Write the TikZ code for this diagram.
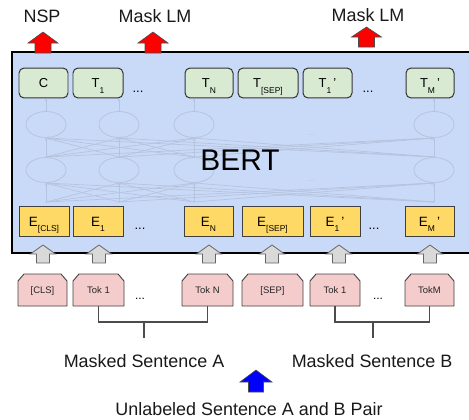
\documentclass[tikz,border=0pt]{standalone}
\usepackage{fontspec}
\setmainfont{Liberation Sans}
\usetikzlibrary{arrows.meta}
\definecolor{bertbg}{HTML}{C9DAF8}
\definecolor{tgreen}{HTML}{D9EAD3}
\definecolor{eyellow}{HTML}{FFD966}
\definecolor{tpink}{HTML}{F4CCCC}
\definecolor{netc}{HTML}{B6C3DE}
\definecolor{arrgray}{HTML}{D9D9D9}
\newcommand\sub[1]{\raisebox{-5.5pt}{\fontsize{8.5}{9}\selectfont #1}}
\newcommand\blockup[7]{\draw[#7] (#1-#5,#3) -- (#1-#5,#2+#6) -- (#1-#4,#2+#6) -- (#1,#2) -- (#1+#4,#2+#6) -- (#1+#5,#2+#6) -- (#1+#5,#3) -- cycle;}
\newcommand\tokbox[4]{\fill[tpink,draw=black!75,line width=0.9pt,line join=round] (#2,306) -- (#2,281) -- (#2+6,274) -- (#3-6,274) -- (#3,281) -- (#3,306) -- cycle;
  \node[toktext,minimum width=#3-#2] (#1) at ({(#2+#3)/2},290) {#4};}
\tikzset{
  tbox/.style={draw=black!80,fill=tgreen,line width=1pt,rounded corners=5pt,minimum height=30pt,inner sep=0pt,
    font=\fontsize{13}{15}\selectfont,text height=9.5pt,text depth=0pt},
  ebox/.style={draw=black!75,fill=eyellow,line width=1pt,minimum height=31pt,inner sep=0pt,
    font=\fontsize{13.5}{15}\selectfont,text height=9.7pt,text depth=0pt},
  toktext/.style={inner sep=0pt,minimum height=32pt,font=\fontsize{9.5}{11}\selectfont,text height=6.8pt,text depth=0pt,text=black!85},
  dotsl/.style={anchor=base,inner sep=0pt,font=\fontsize{13}{15}\selectfont},
  lbl/.style={anchor=base,inner sep=0pt,font=\fontsize{18}{20}\selectfont,text=black!90},
  net/.style={draw=netc,line width=0.7pt,-{Stealth[length=3pt,width=2.5pt]}},
  netell/.style={draw=netc,line width=0.8pt},
  grayarr/.style={fill=arrgray,draw=black!60,line width=0.8pt,line join=miter},
  redarr/.style={fill=red,draw=black!70,line width=0.6pt},
  bluearr/.style={fill=blue,draw=black!70,line width=0.6pt},
  bracket/.style={draw=black!70,line width=1.1pt}
}
\begin{document}
\begin{tikzpicture}[x=1bp,y=-1bp]
\useasboundingbox (0,0) rectangle (469,419);
\clip (0,0) rectangle (469,419);
% BERT box (open on the right, running past the edge)
\fill[bertbg] (12,52) rectangle (475,253);
\draw[line width=2.2pt] (475,52) -- (12,52) -- (12,253) -- (475,253);
% network underlay
\foreach \a in {46,119,194,434}{
  \foreach \b in {46,119,194,434}{
    \draw[net] (\a,202) -- (\b,183);
    \draw[net] (\a,157) -- (\b,138);
  }
  \draw[netell] (\a,170) ellipse [x radius=20, y radius=12.5];
  \draw[netell] (\a,124.5) ellipse [x radius=20, y radius=13];
  \draw[net] (\a,111.5) -- (\a,98.5);
}
\node[anchor=base,inner sep=0pt,text=netc,font=\fontsize{9}{10}\selectfont] (ndots1) at (311,135) {...};
\node[anchor=base,inner sep=0pt,text=netc,font=\fontsize{9}{10}\selectfont] (ndots2) at (311,181) {...};
\node[font=\fontsize{30}{32}\selectfont,anchor=base,inner sep=0pt] (bert) at (240,170) {BERT};
% top row
\node[tbox,minimum width=49bp] (C) at (43.5,83) {C};
\node[tbox,minimum width=50bp] (T1) at (98,83) {T\sub{1}};
\node[dotsl] (tdA) at (138,92) {...};
\node[tbox,minimum width=48bp] (TN) at (209,83) {T\sub{N}};
\node[tbox,minimum width=60bp] (TSEP) at (268,83) {T\sub{[SEP]}};
\node[tbox,minimum width=49bp] (T1b) at (327.5,83) {T\sub{1}\,'};
\node[dotsl] (tdB) at (368,92) {...};
\node[tbox,minimum width=48bp] (TM) at (430,83) {T\sub{M}\,'};
% embedding row
\node[ebox,minimum width=50bp] (ECLS) at (44,221.5) {E\sub{[CLS]}};
\node[ebox,minimum width=50bp] (E1) at (98,221.5) {E\sub{1}};
\node[dotsl] (edA) at (140,229) {...};
\node[ebox,minimum width=49bp] (EN) at (208.5,221.5) {E\sub{N}};
\node[ebox,minimum width=61bp] (ESEP) at (272.5,221.5) {E\sub{[SEP]}};
\node[ebox,minimum width=50bp] (E1b) at (335,221.5) {E\sub{1}\,'};
\node[dotsl] (edB) at (374,229) {...};
\node[ebox,minimum width=49bp] (EM) at (429.5,221.5) {E\sub{M}\,'};
% gray arrows
\foreach \c in {43,99,209,272,339,430}{\blockup{\c}{245}{263}{12.5}{6.5}{9}{grayarr}}
% token row
\tokbox{tCLS}{18}{67}{[CLS]}
\tokbox{tA1}{73}{124}{Tok 1}
\node[dotsl,font=\fontsize{12}{14}\selectfont] (kdA) at (140,299) {...};
\tokbox{tAN}{182}{233}{Tok N}
\tokbox{tSEP}{242}{303}{[SEP]}
\tokbox{tB1}{310}{360}{Tok 1}
\node[dotsl,font=\fontsize{12}{14}\selectfont] (kdB) at (378,299) {...};
\tokbox{tBM}{405}{454}{TokM}
% brackets
\coordinate (stemA) at (144,322);
\coordinate (stemAe) at (144,338);
\coordinate (stemB) at (373,322);
\coordinate (stemBe) at (373,338);
\draw[bracket] (tA1.south) |- (stemA) -| (tAN.south);
\draw[bracket] (stemA) -- (stemAe);
\draw[bracket] (tB1.south) |- (stemB) -| (tBM.south);
\draw[bracket] (stemB) -- (stemBe);
% labels
\node[lbl] (msA) at (144,367) {Masked Sentence A};
\node[lbl] (msB) at (372,367) {Masked Sentence B};
\node[lbl] (unl) at (249,415) {Unlabeled Sentence A and B Pair};
\blockup{256}{370}{392}{16}{7.5}{12}{bluearr}
\node[lbl] (nsp) at (42,22) {NSP};
\node[lbl] (mlmA) at (155,22) {Mask LM};
\node[lbl] (mlmB) at (368,21) {Mask LM};
\blockup{43}{32}{53}{15}{8}{11}{redarr}
\blockup{153}{32}{53}{15}{8}{11}{redarr}
\blockup{366.5}{27}{47}{15}{8}{10}{redarr}
\end{tikzpicture}
\end{document}
